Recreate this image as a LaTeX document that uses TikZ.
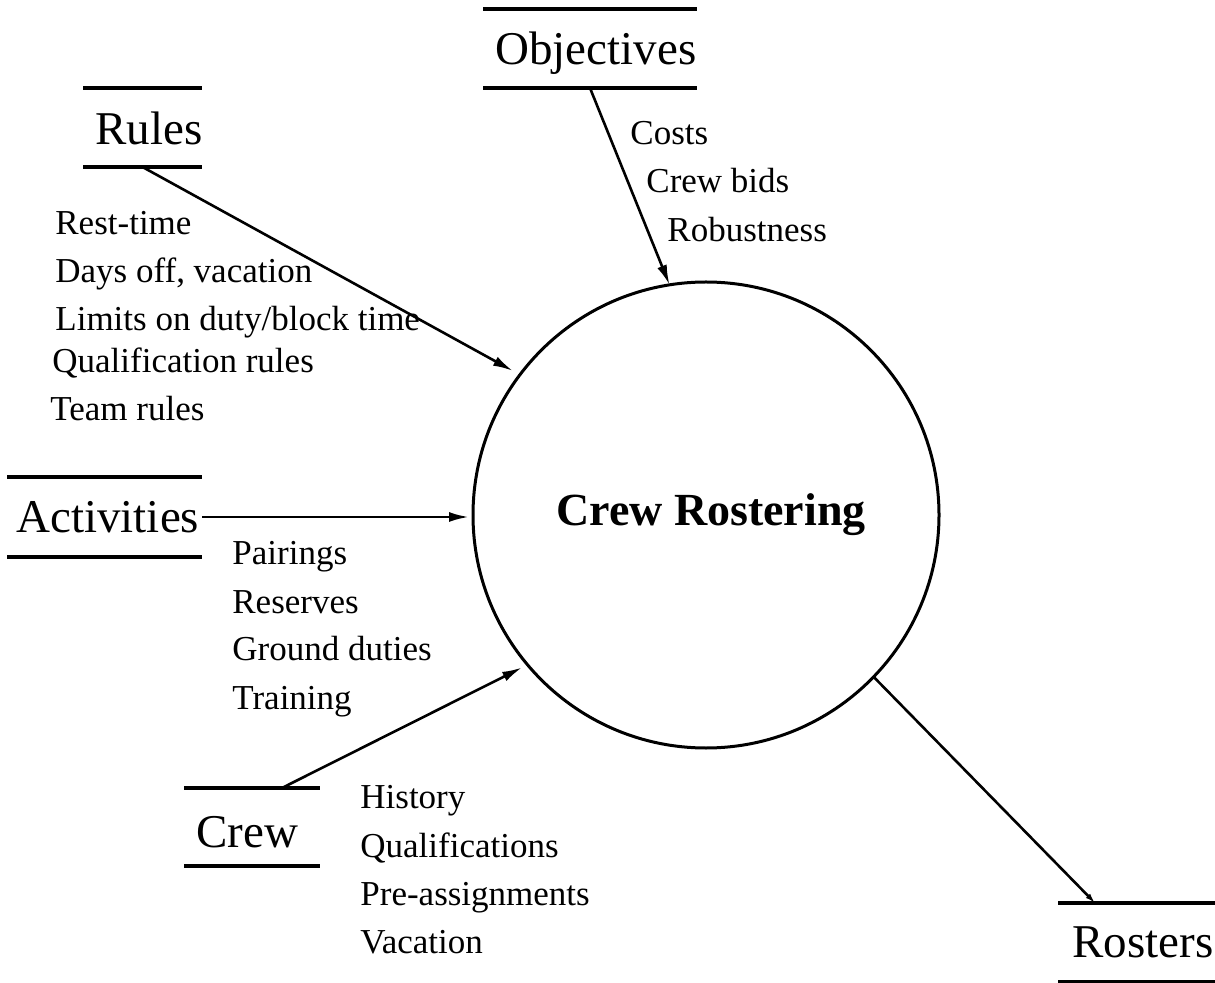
\documentclass[tikz,border=0pt]{standalone}
\usepackage{fontspec}
\setmainfont{Liberation Serif}
\usetikzlibrary{calc,arrows.meta}
\tikzset{
  store/.style={inner sep=0pt, outer sep=0pt, draw=none},
  storeline/.style={line width=1.6pt},
  titletext/.style={inner sep=0pt, anchor=base west, font=\fontsize{23.5pt}{26pt}\selectfont},
  labeltext/.style={inner sep=0pt, anchor=base west, font=\fontsize{17.5pt}{20pt}\selectfont},
  flow/.style={line width=1.3pt, -{Latex[length=10pt,width=5pt]}},
  process/.style={circle, draw, line width=1.5pt, inner sep=0pt, outer sep=0pt, minimum size=233pt}
}
\begin{document}
\begin{tikzpicture}[x=0.5pt,y=-0.5pt]
\useasboundingbox (0,0) rectangle (1215,983);
% process
\node[process] (cr) at (706,515) {};
\node[inner sep=0pt, anchor=base, font=\bfseries\fontsize{23pt}{26pt}\selectfont] (crt) at (711,526) {Crew Rostering};
% stores
\node[store, minimum width=107pt, minimum height=39.5pt] (obj) at (590,48.5) {};
\node[store, minimum width=59.5pt, minimum height=39.5pt] (rules) at (142.5,127.5) {};
\node[store, minimum width=97.5pt, minimum height=40pt] (act) at (104.5,517) {};
\node[store, minimum width=68pt, minimum height=39pt] (crew) at (252,827) {};
\node[store, minimum width=78.5pt, minimum height=39.5pt] (ros) at (1136.5,942.5) {};
\foreach \n in {obj,rules,act,crew,ros}
  \draw[storeline] (\n.north west) -- (\n.north east) (\n.south west) -- (\n.south east);
% store titles
\node[titletext] (objt) at (495,65) {Objectives};
\node[titletext] (rulest) at (95,145) {Rules};
\node[titletext] (actt) at (16,533) {Activities};
\node[titletext] (crewt) at (196,847) {Crew};
\node[titletext] (rost) at (1072,957) {Rosters};
% flows
\draw[flow] (obj.south) -- (cr.99.5);
\draw[flow, shorten >=4pt] (rules.south) -- (cr.143);
\draw[flow, shorten >=2pt] (act.east) -- (act.east -| cr.west);
\draw[flow, shorten >=3pt] ($(crew.north west)!0.72!(crew.north east)$) -- (cr.220.3);
\draw[line width=1.3pt, -{Latex[length=5pt,width=3pt]}] (cr.-44.3) -- ($(ros.north west)!0.236!(ros.north east)$);
% labels: objectives
\node[labeltext] (l1) at (630,145) {Costs};
\node[labeltext] (l2) at (646,193) {Crew bids};
\node[labeltext] (l3) at (667,242) {Robustness};
% labels: rules
\node[labeltext] (r1) at (55,235) {Rest-time};
\node[labeltext] (r2) at (55,283) {Days off, vacation};
\node[labeltext] (r3) at (55,331) {Limits on duty/block time};
\node[labeltext] (r4) at (52,373) {Qualification rules};
\node[labeltext] (r5) at (50,421) {Team rules};
% labels: activities
\node[labeltext] (a1) at (232,565) {Pairings};
\node[labeltext] (a2) at (232,613) {Reserves};
\node[labeltext] (a3) at (232,661) {Ground duties};
\node[labeltext] (a4) at (232,709) {Training};
% labels: crew
\node[labeltext] (c1) at (360,808) {History};
\node[labeltext] (c2) at (360,857) {Qualifications};
\node[labeltext] (c3) at (360,905) {Pre-assignments};
\node[labeltext] (c4) at (360,953) {Vacation};
\end{tikzpicture}
\end{document}
